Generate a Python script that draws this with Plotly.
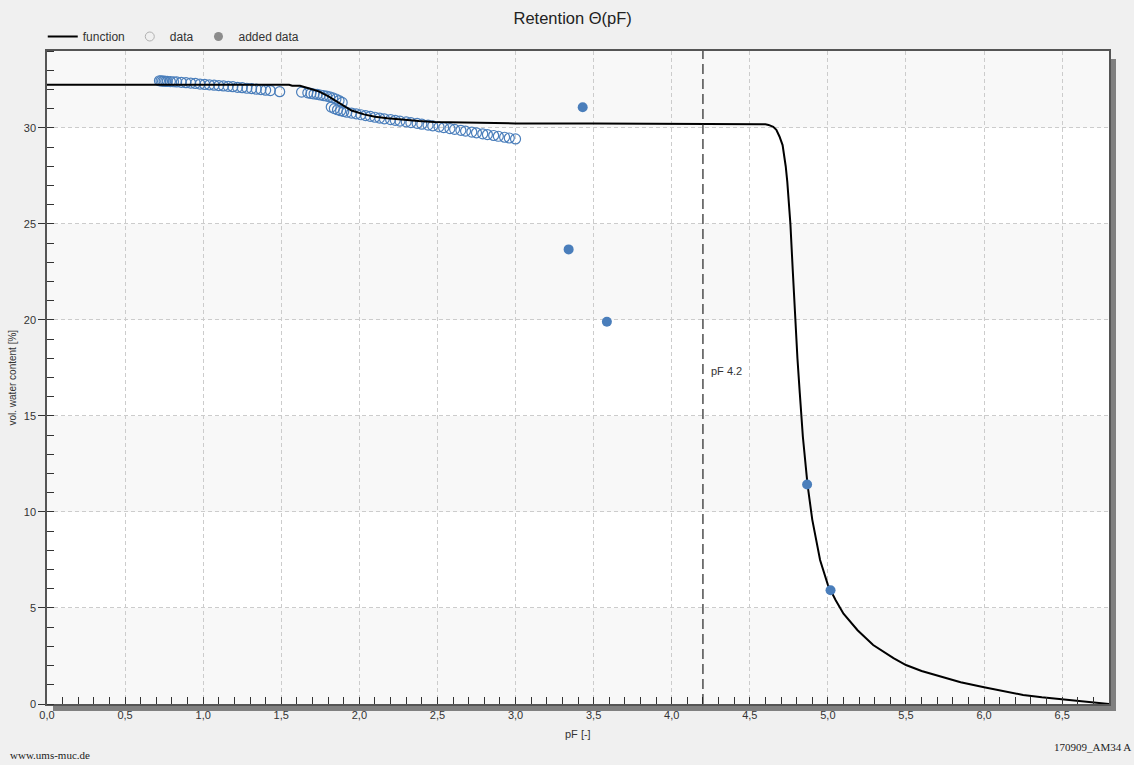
import plotly.graph_objects as go

# ---------------- data ----------------
func_pf = [0.00, 1.50, 1.55, 1.57, 1.62, 1.68, 1.74, 1.80, 1.87, 1.95, 2.03, 2.10,
           2.18, 2.26, 2.38, 2.48, 2.70, 2.72, 3.00, 3.50, 4.00, 4.48, 4.50, 4.55,
           4.60, 4.62, 4.65, 4.67, 4.69, 4.71, 4.72, 4.73, 4.74, 4.75, 4.76, 4.775,
           4.79, 4.805, 4.82, 4.84, 4.87, 4.90, 4.95, 5.00, 5.05, 5.10, 5.19, 5.29,
           5.42, 5.50, 5.60, 5.72, 5.85, 6.00, 6.12, 6.25, 6.37, 6.50, 6.60, 6.70, 6.80]
func_theta = [32.24, 32.24, 32.24, 32.19, 32.19, 32.05, 31.90, 31.65, 31.29, 30.90, 30.70, 30.58,
              30.50, 30.43, 30.35, 30.30, 30.27, 30.24, 30.23, 30.22, 30.21, 30.19, 30.21, 30.20,
              30.18, 30.15, 30.05, 29.90, 29.55, 29.10, 28.60, 28.00, 27.20, 26.20, 25.00, 22.60,
              20.10, 18.00, 16.20, 13.90, 11.40, 9.60, 7.50, 6.20, 5.40, 4.70, 3.84, 3.07,
              2.39, 2.03, 1.72, 1.42, 1.13, 0.87, 0.66, 0.47, 0.35, 0.24, 0.15, 0.07, 0.00]

data_pf = [0.72, 0.73, 0.74, 0.75, 0.76, 0.77, 0.79, 0.81, 0.83, 0.86, 0.89, 0.92, 0.95,
           0.98, 1.01, 1.04, 1.07, 1.10, 1.13, 1.16, 1.19, 1.22, 1.25, 1.28, 1.31, 1.34,
           1.37, 1.40, 1.43, 1.49, 1.63,
           1.67, 1.69, 1.71, 1.73, 1.75, 1.77, 1.79, 1.81, 1.83, 1.85, 1.87, 1.89,
           1.82, 1.84, 1.86, 1.88, 1.90, 1.92, 1.95, 1.98, 2.01, 2.04, 2.07, 2.10, 2.13,
           2.16, 2.20, 2.23, 2.26, 2.30, 2.33, 2.37, 2.40, 2.44, 2.47, 2.51, 2.54, 2.58,
           2.61, 2.65, 2.68, 2.72, 2.75, 2.79, 2.82, 2.86, 2.89, 2.93, 2.96, 3.00]
data_theta = [32.45, 32.44, 32.43, 32.43, 32.42, 32.42, 32.41, 32.40, 32.39, 32.37, 32.35, 32.33, 32.31,
              32.28, 32.26, 32.24, 32.22, 32.20, 32.18, 32.16, 32.14, 32.11, 32.09, 32.06, 32.04, 32.01,
              31.99, 31.96, 31.94, 31.88, 31.86,
              31.82, 31.79, 31.76, 31.74, 31.71, 31.68, 31.65, 31.61, 31.56, 31.50, 31.42, 31.32,
              31.08, 31.00, 30.94, 30.89, 30.85, 30.81, 30.77, 30.73, 30.68, 30.64, 30.60, 30.55, 30.51,
              30.47, 30.43, 30.39, 30.35, 30.31, 30.27, 30.23, 30.19, 30.14, 30.10, 30.05, 30.01, 29.96,
              29.92, 29.87, 29.83, 29.78, 29.74, 29.69, 29.65, 29.60, 29.56, 29.51, 29.47, 29.42]

added_pf = [3.43, 3.34, 3.585, 4.867, 5.017]
added_theta = [31.07, 23.67, 19.90, 11.43, 5.92]

x_ticks = [0.0, 0.5, 1.0, 1.5, 2.0, 2.5, 3.0, 3.5, 4.0, 4.5, 5.0, 5.5, 6.0, 6.5]
y_ticks = [0, 5, 10, 15, 20, 25, 30]
x_range = [0, 6.8]
y_range = [0, 34]
pf_marker = 4.2
pf_marker_label = "pF 4.2"
pf_label_theta = 17.35

# ---------------- styling ----------------
BLUE = "rgb(74,126,187)"
FONT = "Liberation Sans, Arial, sans-serif"
W, H = 1134, 765
ML, MR, MT, MB = 47, 25, 51, 61
PW, PH = W - ML - MR, H - MT - MB

fig = go.Figure()

fig.add_trace(go.Scatter(x=data_pf, y=data_theta, mode="markers", showlegend=False,
                         marker=dict(symbol="circle-open", size=10, color=BLUE, line=dict(width=1.2)),
                         hoverinfo="x+y"))
fig.add_trace(go.Scatter(x=func_pf, y=func_theta, mode="lines", showlegend=False,
                         line=dict(color="black", width=2)))
fig.add_trace(go.Scatter(x=added_pf, y=added_theta, mode="markers", showlegend=False,
                         marker=dict(symbol="circle", size=10, color=BLUE)))

# legend entries (grey symbols as in the reference legend)
fig.add_trace(go.Scatter(x=[None], y=[None], mode="lines", name="function",
                         line=dict(color="black", width=2)))
fig.add_trace(go.Scatter(x=[None], y=[None], mode="markers", name="data",
                         marker=dict(symbol="circle-open", size=9, color="#b0b0b0", line=dict(width=1))))
fig.add_trace(go.Scatter(x=[None], y=[None], mode="markers", name="added data",
                         marker=dict(symbol="circle", size=9, color="#8c8c8c")))

shapes = []
# alternating horizontal bands
edges = y_ticks + [y_range[1]]
for i in range(0, len(edges) - 1, 2):
    shapes.append(dict(type="rect", xref="paper", yref="y", x0=0, x1=1,
                       y0=edges[i], y1=edges[i + 1], fillcolor="#f8f8f8",
                       line=dict(width=0), layer="below"))
# drop shadow on bottom and right
shapes.append(dict(type="rect", xref="paper", yref="paper",
                   x0=6 / PW, x1=1 + 7 / PW, y0=-7 / PH, y1=0,
                   fillcolor="#808080", line=dict(width=0), layer="below"))
shapes.append(dict(type="rect", xref="paper", yref="paper",
                   x0=1, x1=1 + 7 / PW, y0=-7 / PH, y1=1 - 8 / PH,
                   fillcolor="#808080", line=dict(width=0), layer="below"))
# pF 4.2 line
shapes.append(dict(type="line", xref="x", yref="paper", x0=pf_marker, x1=pf_marker,
                   y0=0, y1=1, line=dict(color="#222", width=1.2, dash="10px,5px")))

annotations = [
    dict(text=pf_marker_label, x=pf_marker, y=pf_label_theta, xref="x", yref="y",
         xanchor="left", yanchor="middle", xshift=6, showarrow=False,
         font=dict(family=FONT, size=11, color="#333")),
    dict(text="pF [-]", x=0.5, y=(704 - 734) / PH, xref="paper", yref="paper",
         xanchor="center", yanchor="middle", showarrow=False,
         font=dict(family=FONT, size=11, color="#333")),
    dict(text="vol. water content [%]", x=(12 - ML) / PW, y=0.5, xref="paper", yref="paper",
         xanchor="center", yanchor="middle", textangle=-90, showarrow=False,
         font=dict(family=FONT, size=10, color="#333")),
    dict(text="www.ums-muc.de", x=(8 - ML) / PW, y=(704 - 755) / PH, xref="paper", yref="paper",
         xanchor="left", yanchor="middle", showarrow=False,
         font=dict(family="Liberation Serif, Times New Roman, serif", size=11, color="#222")),
    dict(text="170909_AM34 A", x=(1133 - ML) / PW, y=(704 - 747) / PH, xref="paper", yref="paper",
         xanchor="right", yanchor="middle", showarrow=False,
         font=dict(family="Liberation Serif, Times New Roman, serif", size=11, color="#222")),
]

fig.update_layout(
    width=W, height=H,
    margin=dict(l=ML, r=MR, t=MT, b=MB, pad=0),
    paper_bgcolor="#f0f0f0",
    plot_bgcolor="white",
    separators=", ",
    font=dict(family=FONT, size=11, color="#333"),
    title=dict(text="Retention Θ(pF)", x=0.505, xref="container", xanchor="center",
               y=1 - 18 / H, yref="container", yanchor="middle",
               font=dict(family=FONT, size=16.5, color="#222")),
    showlegend=True,
    legend=dict(orientation="h", x=-0.004, xanchor="left", y=1, yanchor="bottom",
                bgcolor="rgba(0,0,0,0)", font=dict(family=FONT, size=12, color="#333"),
                itemwidth=30, traceorder="normal"),
    shapes=shapes,
    annotations=annotations,
    xaxis=dict(range=x_range, tickvals=x_ticks, tickformat=".1f", ticks="inside",
               ticklen=7, tickcolor="#333", tickwidth=1,
               minor=dict(dtick=0.1, ticks="inside", ticklen=7, tickcolor="#333", showgrid=False),
               showgrid=True, gridcolor="#cccccc", griddash="4px,3px", gridwidth=1,
               showline=True, linecolor="#555", linewidth=1.5, mirror=True,
               zeroline=False, tickfont=dict(family=FONT, size=11, color="#333")),
    yaxis=dict(range=y_range, tickvals=y_ticks, ticks="outside",
               ticklen=7, tickcolor="#333", tickwidth=1,
               minor=dict(dtick=1, ticks="inside", ticklen=7, tickcolor="#333", showgrid=False),
               showgrid=True, gridcolor="#cccccc", griddash="4px,3px", gridwidth=1,
               showline=True, linecolor="#555", linewidth=1.5, mirror=True,
               zeroline=False, tickfont=dict(family=FONT, size=11, color="#333")),
)

fig.write_html("out.html", config={"displayModeBar": False})

# remove the browser's default page margin so the figure fills the window exactly
with open("out.html", "r", encoding="utf-8") as f:
    html = f.read()
html = html.replace("<head>", "<head><style>html,body{margin:0;padding:0;overflow:hidden;}</style>", 1)
with open("out.html", "w", encoding="utf-8") as f:
    f.write(html)
